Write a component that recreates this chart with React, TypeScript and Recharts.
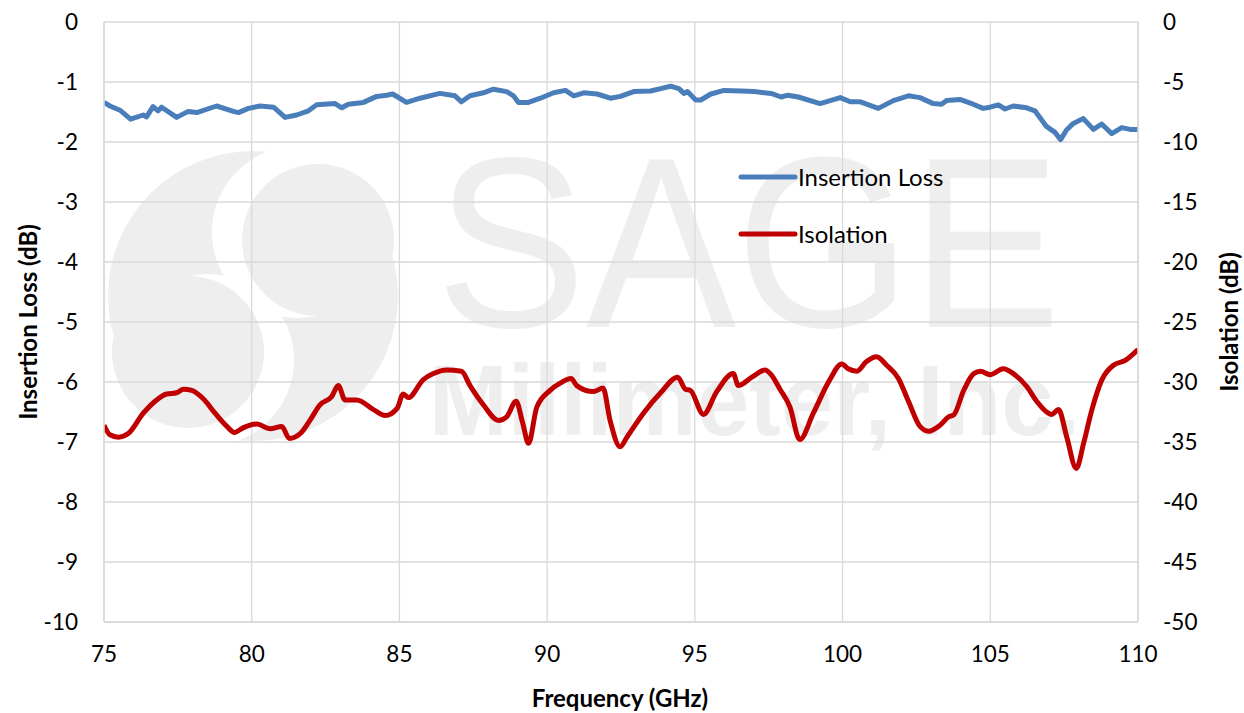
import React from "react";
import { LineChart, Line, XAxis, YAxis, CartesianGrid, Legend } from "recharts";

const BLUE = "#4a7ebb";
const RED = "#c00000";
const GRID = "#d9d9d9";
const FONT = "Lato, 'Open Sans', sans-serif";

// insertion loss (left axis, dB) vs frequency (GHz)
const ilFreq = [
  75.0, 75.2, 75.54, 75.9, 76.33, 76.44, 76.66, 76.83, 76.95, 77.46, 77.85, 78.14,
  78.81, 79.38, 79.55, 79.89, 80.28, 80.74, 81.13, 81.52, 81.92, 82.2, 82.82, 83.05,
  83.27, 83.78, 84.23, 84.57, 84.77, 85.24, 85.7, 86.37, 86.88, 87.1, 87.39, 87.84,
  88.18, 88.63, 88.86, 89.03, 89.37, 89.77, 90.22, 90.62, 90.9, 91.24, 91.69, 92.14,
  92.48, 92.93, 93.5, 93.84, 94.18, 94.46, 94.63, 94.75, 95.03, 95.2, 95.54, 95.99,
  96.56, 97.01, 97.58, 97.92, 98.15, 98.5, 99.24, 99.92, 100.26, 100.6, 101.21, 101.72,
  102.23, 102.62, 103.07, 103.35, 103.52, 103.97, 104.42, 104.76, 104.99, 105.27, 105.5, 105.78,
  106.23, 106.51, 106.9, 107.19, 107.38, 107.58, 107.81, 108.15, 108.49, 108.77, 109.11, 109.45,
  109.73, 110.0,
];
const ilValues = [
  -1.34, -1.4, -1.47, -1.62, -1.55, -1.58, -1.41, -1.48, -1.42, -1.59, -1.49, -1.51,
  -1.4, -1.49, -1.51, -1.44, -1.4, -1.42, -1.59, -1.55, -1.48, -1.38, -1.36, -1.43,
  -1.37, -1.34, -1.24, -1.22, -1.2, -1.34, -1.27, -1.19, -1.23, -1.33, -1.23, -1.18,
  -1.12, -1.16, -1.23, -1.34, -1.34, -1.27, -1.18, -1.14, -1.23, -1.18, -1.2, -1.27,
  -1.24, -1.16, -1.15, -1.11, -1.07, -1.11, -1.19, -1.16, -1.3, -1.3, -1.2, -1.14,
  -1.15, -1.16, -1.19, -1.25, -1.22, -1.25, -1.36, -1.26, -1.33, -1.33, -1.44, -1.31,
  -1.23, -1.26, -1.36, -1.37, -1.31, -1.29, -1.37, -1.44, -1.42, -1.38, -1.45, -1.4,
  -1.43, -1.48, -1.74, -1.84, -1.96, -1.8, -1.69, -1.61, -1.79, -1.7, -1.86, -1.76,
  -1.79, -1.79,
];

// isolation (right axis, dB) vs frequency (GHz)
const isoFreq = [
  75.0, 75.2, 75.49, 75.82, 76.33, 76.73, 77.12, 77.46, 77.69, 77.97, 78.36, 78.76,
  79.16, 79.41, 79.72, 80.17, 80.62, 81.02, 81.27, 81.64, 81.97, 82.31, 82.71, 82.93,
  83.16, 83.56, 84.12, 84.52, 84.92, 85.13, 85.3, 85.81, 86.15, 86.6, 87.1, 87.39,
  87.84, 88.35, 88.63, 88.95, 89.17, 89.37, 89.65, 90.1, 90.44, 90.81, 91.0, 91.57,
  91.89, 92.13, 92.47, 92.7, 93.26, 93.84, 94.42, 94.68, 94.85, 95.29, 95.74, 96.3,
  96.47, 96.93, 97.38, 97.55, 97.88, 98.22, 98.55, 99.01, 99.57, 99.97, 100.19, 100.48,
  100.81, 101.15, 101.49, 101.89, 102.23, 102.62, 102.91, 103.3, 103.59, 103.76, 104.1, 104.44,
  104.67, 104.99, 105.44, 105.78, 106.24, 106.57, 106.91, 107.08, 107.31, 107.59, 107.91, 108.16,
  108.44, 108.78, 109.17, 109.57, 110.0,
];
const isoValues = [
  -33.6, -34.4, -34.6, -34.3, -32.6, -31.6, -31.0, -30.9, -30.6, -30.7, -31.4, -32.6,
  -33.7, -34.2, -33.8, -33.5, -33.9, -33.7, -34.7, -34.3, -33.2, -31.9, -31.2, -30.3,
  -31.5, -31.5, -32.3, -32.8, -32.2, -31.0, -31.3, -29.8, -29.3, -29.0, -29.1, -30.3,
  -31.9, -33.2, -32.9, -31.6, -33.4, -35.1, -32.1, -30.7, -30.1, -29.7, -30.3, -30.8,
  -30.5, -33.2, -35.4, -34.6, -32.6, -30.9, -29.6, -30.6, -30.7, -32.7, -30.8, -29.3,
  -30.3, -29.6, -29.0, -29.3, -30.6, -32.1, -34.8, -32.6, -29.8, -28.5, -28.9, -29.1,
  -28.3, -27.9, -28.6, -29.7, -31.6, -33.7, -34.1, -33.6, -32.9, -32.75, -30.7, -29.3,
  -29.1, -29.4, -28.9, -29.3, -30.4, -31.6, -32.5, -32.7, -32.3, -34.6, -37.2, -35.1,
  -32.3, -29.8, -28.6, -28.2, -27.3,
];

const xTicks = [75, 80, 85, 90, 95, 100, 105, 110];
const leftTicks = [-10, -9, -8, -7, -6, -5, -4, -3, -2, -1, 0];
const rightTicks = [-50, -45, -40, -35, -30, -25, -20, -15, -10, -5, 0];
const xMinorTicks = Array.from({ length: 36 }, (_, i) => 75 + i);
const yMinorTicks = Array.from({ length: 51 }, (_, i) => -50 + i);

const legendItems = [
  { name: "Insertion Loss", color: BLUE },
  { name: "Isolation", color: RED },
];

const ilData = ilFreq.map((f, i) => ({ f, v: ilValues[i] }));
const isoData = isoFreq.map((f, i) => ({ f, v: isoValues[i] }));

const tickStyle = { fill: "#000", fontSize: 22.5, fontFamily: FONT };

function Watermark() {
  const shade = "#eeeeee";
  return (
    <svg
      width={1244}
      height={713}
      style={{ position: "absolute", left: 0, top: 0 }}
    >
      <circle cx={253} cy={296} r={145} fill={shade} />
      <circle cx={298} cy={232} r={86} fill="#fff" />
      <circle cx={318} cy={240} r={76} fill={shade} />
      <circle cx={208} cy={360} r={86} fill="#fff" />
      <circle cx={188} cy={352} r={76} fill={shade} />
      <text
        x={436}
        y={327}
        fontFamily="'Liberation Sans', Arial, sans-serif"
        fontSize={244}
        fill={shade}
        textLength={625}
        lengthAdjust="spacingAndGlyphs"
      >
        SAGE
      </text>
      <text
        x={429}
        y={435}
        fontFamily="'Liberation Sans', Arial, sans-serif"
        fontWeight="bold"
        fontSize={100}
        fill={shade}
        textLength={651}
        lengthAdjust="spacingAndGlyphs"
      >
        Millimeter, Inc.
      </text>
    </svg>
  );
}

function LegendBox() {
  return (
    <div>
      {legendItems.map((it) => (
        <div
          key={it.name}
          style={{ display: "flex", alignItems: "center", height: 57 }}
        >
          <svg width={60} height={10}>
            <line
              x1={3}
              x2={57}
              y1={5}
              y2={5}
              stroke={it.color}
              strokeWidth={5}
              strokeLinecap="round"
            />
          </svg>
          <span style={{ fontSize: 24, fontFamily: FONT, color: "#000" }}>
            {it.name}
          </span>
        </div>
      ))}
    </div>
  );
}

const titleStyle: React.CSSProperties = {
  position: "absolute",
  fontFamily: FONT,
  fontWeight: "bold",
  fontSize: 24,
  color: "#000",
  whiteSpace: "nowrap",
};

export default function App() {
  return (
    <div
      style={{
        position: "absolute",
        left: 0,
        top: 0,
        width: 1244,
        height: 713,
        background: "#fff",
        fontFamily: FONT,
      }}
    >
      <Watermark />
      <div style={{ position: "absolute", left: 0, top: 0 }}>
        <LineChart
          width={1244}
          height={713}
          margin={{ top: 22, right: 0, bottom: 0, left: 0 }}
        >
          <CartesianGrid xAxisId="main" yAxisId="left" stroke={GRID} strokeWidth={1.3} />
          <XAxis
            xAxisId="main"
            type="number"
            dataKey="f"
            domain={[75, 110]}
            ticks={xTicks}
            height={91}
            axisLine={{ stroke: GRID, strokeWidth: 1.5 }}
            tickLine={false}
            tickSize={0}
            tickMargin={24}
            tick={tickStyle}
            allowDataOverflow
          />
          <XAxis
            xAxisId="minor"
            type="number"
            dataKey="f"
            domain={[75, 110]}
            ticks={xMinorTicks}
            mirror
            tick={false}
            tickSize={6}
            axisLine={false}
            tickLine={{ stroke: GRID, strokeWidth: 1.5 }}
            allowDataOverflow
          />
          <YAxis
            yAxisId="left"
            domain={[-10, 0]}
            ticks={leftTicks}
            width={104}
            axisLine={{ stroke: GRID, strokeWidth: 1.5 }}
            tickLine={false}
            tickSize={0}
            tickMargin={26}
            tick={tickStyle}
            allowDataOverflow
          />
          <YAxis
            yAxisId="right"
            orientation="right"
            domain={[-50, 0]}
            ticks={rightTicks}
            width={106}
            axisLine={{ stroke: GRID, strokeWidth: 1.5 }}
            tickLine={false}
            tickSize={0}
            tickMargin={25}
            tick={tickStyle}
            allowDataOverflow
          />
          <YAxis
            yAxisId="leftMinor"
            domain={[-50, 0]}
            ticks={yMinorTicks}
            mirror
            tick={false}
            tickSize={6}
            axisLine={false}
            tickLine={{ stroke: GRID, strokeWidth: 1.5 }}
            allowDataOverflow
          />
          <YAxis
            yAxisId="rightMinor"
            orientation="right"
            domain={[-50, 0]}
            ticks={yMinorTicks}
            mirror
            tick={false}
            tickSize={6}
            axisLine={false}
            tickLine={{ stroke: GRID, strokeWidth: 1.5 }}
            allowDataOverflow
          />
          <Legend
            layout="horizontal"
            verticalAlign="middle"
            align="center"
            wrapperStyle={{ left: 738, top: 148, width: 280 }}
            content={() => <LegendBox />}
          />
          <Line
            xAxisId="main"
            yAxisId="left"
            data={ilData}
            dataKey="v"
            name="Insertion Loss"
            type="linear"
            stroke={BLUE}
            strokeWidth={5}
            strokeLinejoin="round"
            dot={false}
            activeDot={false}
            isAnimationActive={false}
          />
          <Line
            xAxisId="main"
            yAxisId="right"
            data={isoData}
            dataKey="v"
            name="Isolation"
            type="monotone"
            stroke={RED}
            strokeWidth={5}
            strokeLinejoin="round"
            dot={false}
            activeDot={false}
            isAnimationActive={false}
          />
        </LineChart>
      </div>
      <div
        style={{
          ...titleStyle,
          left: 620,
          top: 697,
          transform: "translate(-50%, -50%)",
        }}
      >
        Frequency (GHz)
      </div>
      <div
        style={{
          ...titleStyle,
          left: 27,
          top: 322,
          transform: "translate(-50%, -50%) rotate(-90deg)",
        }}
      >
        Insertion Loss (dB)
      </div>
      <div
        style={{
          ...titleStyle,
          left: 1228,
          top: 322,
          transform: "translate(-50%, -50%) rotate(-90deg)",
        }}
      >
        Isolation (dB)
      </div>
    </div>
  );
}
